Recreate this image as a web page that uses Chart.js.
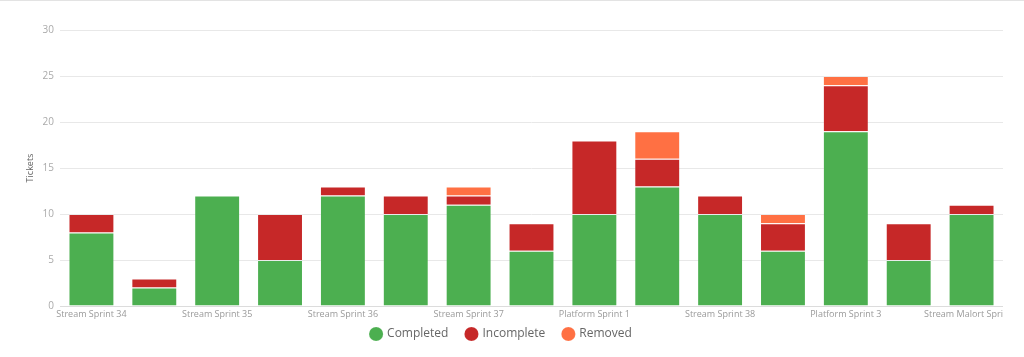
<!DOCTYPE html>
<html>
<head>
<meta charset="utf-8">
<script src="https://cdn.jsdelivr.net/npm/chart.js@4"></script>
<style>
  html, body { margin: 0; padding: 0; background: #fff; }
  #frame { width: 1024px; height: 356px; border-top: 1px solid #e3e3e3; position: relative; }
  #clip { width: 1003px; height: 356px; overflow: hidden; position: absolute; left: 0; top: 0; }
  canvas { display: block; }
</style>
</head>
<body>
<div id="frame">
  <div id="clip"><canvas id="c" width="1024" height="356"></canvas></div>
</div>
<script>
const categories = [
  "Stream Sprint 34", "Malort Sprint 1", "Stream Sprint 35", "Malort Sprint 2",
  "Stream Sprint 36", "Malort Sprint 3", "Stream Sprint 37", "Malort Sprint 4",
  "Platform Sprint 1", "Malort Sprint 5", "Stream Sprint 38", "Platform Sprint 2",
  "Platform Sprint 3", "Malort Sprint 6", "Stream Malort Sprint 1"
];
const completed  = [8, 2, 12, 5, 12, 10, 11, 6, 10, 13, 10, 6, 19, 5, 10];
const incomplete = [2, 1, 0, 5, 1, 2, 1, 3, 8, 3, 2, 3, 5, 4, 1];
const removed    = [0, 0, 0, 0, 0, 0, 1, 0, 0, 3, 0, 1, 1, 0, 0];
const yTicks = [0, 5, 10, 15, 20, 25, 30];

const seriesNames = ["Completed", "Incomplete", "Removed"];
const seriesColors = ["#4caf50", "#c62828", "#ff7043"];

const FONT = "'Open Sans', 'Noto Sans', sans-serif";
const LEGEND_PAD = 18;
const LEGEND_SHIFT = 14;

const legendTweak = {
  id: 'legendTweak',
  beforeInit(chart) {
    const lg = chart.legend;
    const orig = lg.fit.bind(lg);
    lg.fit = function () { orig(); this.height = 32; };
  },
  afterLayout(chart) {
    const lg = chart.legend;
    lg.top -= LEGEND_SHIFT;
    lg.bottom -= LEGEND_SHIFT;
  }
};

new Chart(document.getElementById('c'), {
  type: 'bar',
  data: {
    labels: categories,
    datasets: [completed, incomplete, removed].map((d, i) => ({
      label: seriesNames[i],
      data: d,
      backgroundColor: seriesColors[i],
      borderColor: 'rgba(255,255,255,0.12)',
      borderWidth: 1,
      categoryPercentage: 1,
      barPercentage: 0.73
    }))
  },
  plugins: [legendTweak],
  options: {
    responsive: false,
    animation: false,
    layout: { padding: { top: 29, right: 21, left: 0, bottom: 1 } },
    plugins: {
      tooltip: { enabled: false },
      legend: {
        position: 'bottom',
        labels: {
          usePointStyle: true,
          pointStyle: 'circle',
          boxWidth: 10,
          boxHeight: 10,
          padding: LEGEND_PAD,
          color: '#666',
          font: { family: FONT, size: 12 }
        }
      }
    },
    scales: {
      x: {
        stacked: true,
        offset: true,
        afterFit: (s) => { s.height = 18; },
        grid: { display: false, drawTicks: false },
        border: { display: true, color: '#dcdcdc', width: 1 },
        ticks: {
          color: '#9a9a9a',
          font: { family: FONT, size: 9 },
          maxRotation: 0,
          autoSkip: true,
          padding: 3
        }
      },
      y: {
        stacked: true,
        min: 0,
        max: 30,
        afterBuildTicks: (s) => { s.ticks = yTicks.map(v => ({ value: v })); },
        afterFit: (s) => { s.width = 60; },
        grid: { color: '#e8e8e8', drawTicks: false },
        border: { display: false },
        ticks: {
          color: '#aaa',
          font: { family: FONT, size: 10 },
          padding: 6
        },
        title: {
          display: true,
          text: 'Tickets',
          color: '#666',
          font: { family: FONT, size: 9 },
          padding: { top: 25, bottom: 0 }
        }
      }
    }
  }
});
</script>
</body>
</html>
